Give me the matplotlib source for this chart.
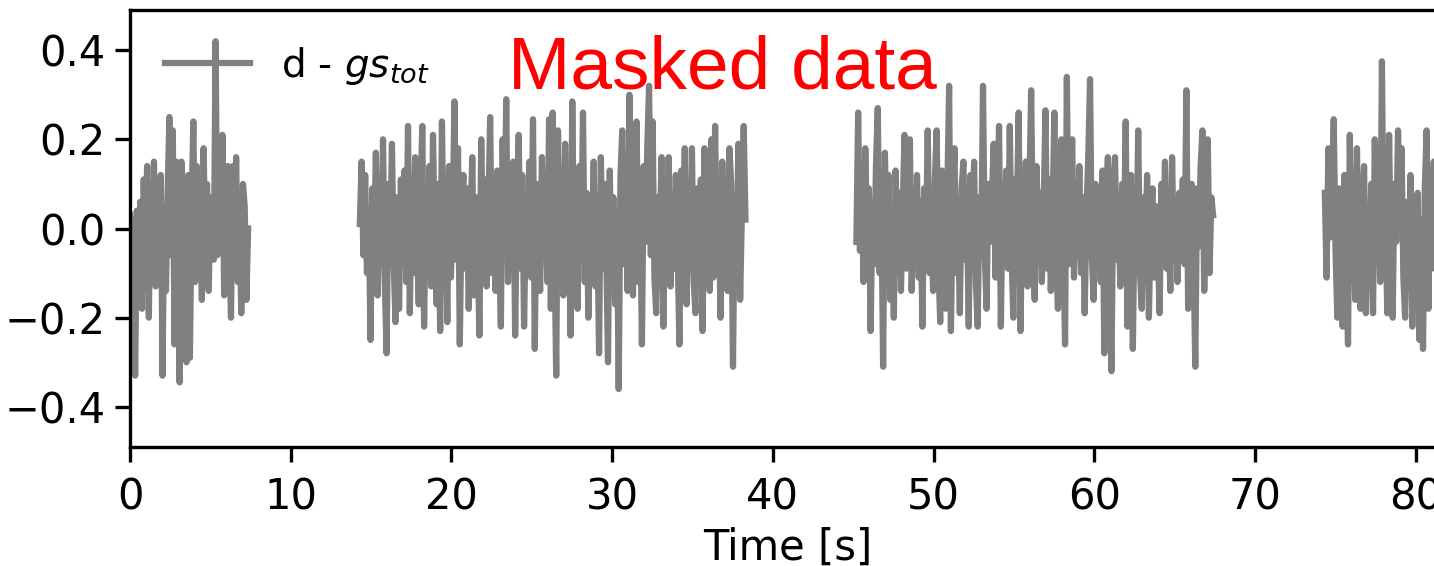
"""
Residual d - gs_tot over time, with masked gaps between the data segments.
"""

import numpy as np
import matplotlib
matplotlib.use("Agg")
import matplotlib.pyplot as plt

# =============================================================================
# Data
# =============================================================================
seg1_range = (0.0, 7.35)
seg1_vals = [
    0.03, -0.10, 0.02, -0.33, 0.04, -0.12, 0.06, -0.18, 0.11, -0.05,
    0.14, -0.20, 0.09, -0.08, 0.15, -0.13, 0.02, -0.10, 0.12, -0.33,
    0.05, -0.14, 0.08, 0.25, -0.06, 0.22, -0.26, 0.15, -0.10, -0.345,
    0.15, -0.04, 0.03, -0.30, 0.12, -0.29, 0.05, 0.24, -0.12, 0.14,
    -0.08, 0.02, -0.16, 0.18, -0.05, 0.10, -0.14, 0.07, 0.04, -0.07,
    0.42, -0.06, 0.12, -0.02, 0.21, -0.15, 0.08, 0.14, -0.03, -0.20,
    0.14, -0.05, 0.16, -0.12, 0.02, -0.19, 0.10, 0.05, -0.16, 0.00,
]

seg2_range = (14.3, 38.3)
seg2_vals = [
    0.01, 0.15, -0.06, 0.12, -0.10, 0.03, -0.25, 0.09, -0.04, 0.17, -0.15, 0.06, -0.08, 0.20, -0.12, -0.28, 0.10, -0.05,
    0.19, -0.08, -0.21, 0.07, -0.18, 0.11, -0.04, 0.13, -0.12, 0.23, -0.19, 0.05, -0.10, 0.16, -0.02, -0.17, 0.08, 0.23,
    -0.22, 0.06, -0.09, 0.14, -0.13, 0.21, -0.03, -0.17, 0.10, -0.23, 0.24, -0.06, 0.05, -0.21, 0.14, -0.11, 0.02, 0.285,
    -0.07, 0.18, -0.26, 0.04, 0.12, -0.09, 0.09, -0.18, 0.02, 0.16, -0.15, 0.07, -0.05, -0.24, 0.20, -0.08, 0.11, -0.13,
    0.04, 0.25, -0.10, 0.08, -0.14, 0.13, -0.03, -0.22, 0.20, -0.06, 0.29, -0.12, 0.09, -0.04, 0.15, -0.24, 0.06, 0.21,
    -0.09, 0.12, -0.22, 0.03, -0.07, 0.15, -0.11, 0.245, -0.27, 0.10, -0.02, -0.14, 0.16, -0.06, 0.07, -0.12, 0.245, -0.18,
    0.26, -0.04, -0.33, 0.22, -0.09, 0.06, -0.15, 0.19, -0.07, 0.11, -0.24, 0.285, -0.10, 0.04, -0.18, 0.14, -0.05, 0.26,
    -0.12, 0.08, -0.20, 0.05, -0.06, 0.15, -0.13, 0.02, -0.28, 0.16, -0.09, 0.10, -0.04, -0.30, 0.13, -0.11, 0.07, -0.17,
    0.04, -0.36, 0.12, 0.22, -0.08, 0.09, -0.14, 0.30, -0.05, -0.15, 0.11, 0.24, -0.12, 0.06, -0.26, 0.14, -0.03, 0.18,
    0.32, -0.06, 0.24, -0.11, -0.19, 0.07, -0.03, 0.16, -0.22, 0.10, -0.07, 0.16, -0.13, 0.04, -0.09, 0.12, -0.05, -0.26,
    0.13, -0.04, 0.18, -0.17, 0.05, -0.08, 0.18, -0.12, -0.19, 0.09, -0.02, 0.11, -0.23, 0.18, -0.07, 0.06, -0.14, 0.20,
    -0.11, 0.23, -0.06, 0.08, -0.20, 0.15, -0.09, 0.03, -0.14, 0.18, 0.10, -0.31, 0.07, -0.10, 0.19, -0.16, 0.04, 0.23,
    0.02,
]

seg3_range = (45.2, 67.4)
seg3_vals = [
    -0.03, 0.26, -0.05, 0.10, -0.12, 0.18, -0.02, 0.09, -0.23, 0.05, -0.08, 0.14, 0.27, -0.10, 0.06, -0.31, 0.17, -0.04,
    0.12, -0.16, 0.03, -0.20, 0.13, -0.06, 0.08, -0.14, 0.05, 0.21, -0.09, 0.07, 0.20, -0.14, 0.02, -0.07, 0.12, -0.11,
    0.06, -0.22, 0.09, -0.05, 0.22, -0.10, 0.04, -0.14, 0.11, 0.22, -0.08, -0.21, 0.13, -0.04, -0.18, 0.08, 0.32, -0.23,
    0.05, 0.18, -0.10, 0.02, -0.19, 0.09, 0.15, -0.07, 0.04, -0.22, 0.12, -0.03, 0.15, -0.12, -0.22, 0.07, -0.05, 0.32,
    -0.06, -0.18, 0.10, -0.03, 0.07, 0.19, -0.11, 0.05, 0.23, -0.22, 0.08, -0.04, 0.13, -0.09, 0.23, -0.06, -0.20, 0.11,
    0.04, 0.26, -0.23, 0.06, -0.08, 0.15, -0.13, 0.09, 0.31, -0.05, -0.16, 0.14, -0.03, 0.08, -0.12, 0.05, 0.265, -0.09,
    0.11, -0.14, 0.03, 0.26, -0.07, -0.18, 0.09, 0.20, -0.04, -0.26, 0.34, -0.08, 0.12, 0.20, -0.11, 0.05, -0.06, 0.14,
    -0.10, 0.07, -0.19, 0.04, 0.16, 0.335, -0.06, -0.16, 0.10, -0.02, 0.08, -0.12, 0.13, -0.28, 0.05, 0.16, -0.09, -0.32,
    0.08, 0.16, -0.07, 0.03, -0.13, 0.10, -0.04, 0.24, -0.22, 0.06, 0.12, -0.27, 0.04, -0.08, 0.22, -0.10, -0.18, 0.07,
    -0.05, 0.12, -0.20, 0.02, 0.09, -0.11, 0.05, -0.04, -0.19, 0.10, -0.06, 0.15, -0.09, 0.03, -0.14, 0.16, -0.07, 0.06,
    -0.12, 0.08, -0.03, 0.11, -0.08, 0.31, -0.18, 0.05, 0.10, -0.06, -0.31, 0.09, -0.04, 0.14, 0.22, -0.14, 0.04, 0.20,
    -0.10, 0.07, 0.03,
]

seg4_range = (74.35, 82.35)
seg4_vals = [
    0.08, -0.11, 0.18, -0.02, 0.06, 0.245, -0.05, -0.20, 0.09, -0.04, -0.22, 0.12, -0.08, -0.26, 0.21, -0.06, 0.05, -0.16,
    0.18, -0.07, -0.18, 0.05, 0.14, -0.19, 0.02, -0.10, 0.10, -0.19, 0.20, -0.04, 0.07, -0.12, 0.375, -0.08, 0.03, -0.19,
    0.21, -0.07, -0.20, 0.10, -0.03, 0.22, 0.04, 0.18, -0.11, -0.20, 0.06, -0.09, 0.12, -0.22, 0.03, -0.12, 0.08, -0.25,
    0.02, -0.27, 0.09, 0.22, -0.18, 0.11, -0.09, 0.15, -0.13, 0.04, -0.06, 0.17, -0.15, 0.08, -0.02, 0.12, -0.10, 0.05,
    0.00,
]

segments = [
    (seg1_range, seg1_vals),
    (seg2_range, seg2_vals),
    (seg3_range, seg3_vals),
    (seg4_range, seg4_vals),
]

x_ticks = [0, 10, 20, 30, 40, 50, 60, 70, 80]
y_ticks = [-0.4, -0.2, 0.0, 0.2, 0.4]

# =============================================================================
# Figure
# =============================================================================
plt.rcParams['font.family'] = 'DejaVu Sans'
plt.rcParams['font.size'] = 10

X_MAX = 81.8
fig = plt.figure(figsize=(4.78, 566 / 300), dpi=300)
# axes run just past the right edge of the picture (cropped view)
ax = fig.add_axes([130 / 1434, 1 - 447 / 566, X_MAX * 16.07 / 1434, 437 / 566])

for i, ((t0, t1), vals) in enumerate(segments):
    t = np.linspace(t0, t1, len(vals))
    ax.plot(t, vals, color='gray', lw=1.5,
            label=r'd - $gs_{tot}$' if i == 0 else None)

ax.set_xlim(0, X_MAX)
ax.set_ylim(-0.49, 0.49)
ax.set_xticks(x_ticks)
ax.set_yticks(y_ticks)
ax.tick_params(axis='y', pad=2.3)
ax.set_xlabel('Time [s]', labelpad=2)

ax.text(23.5, 0.315, 'Masked data', color='red', fontsize=18,
        family='Liberation Sans', va='baseline', ha='left')

ax.legend(loc='upper left', frameon=False, fontsize=9.3, handlelength=2.2)

fig.savefig('out.png', dpi=300)
